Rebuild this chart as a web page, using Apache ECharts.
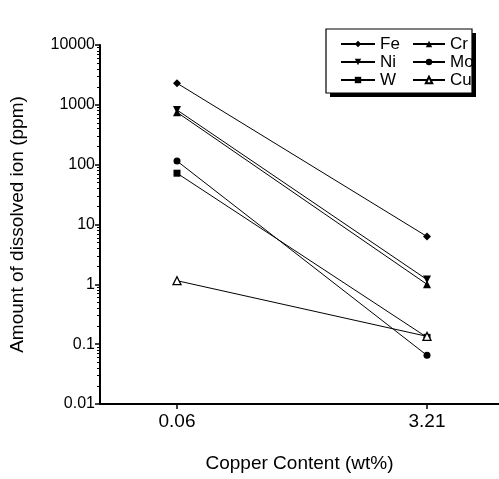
<!DOCTYPE html>
<html>
<head>
<meta charset="utf-8">
<script src="https://cdn.jsdelivr.net/npm/echarts@6/dist/echarts.min.js"></script>
<style>
  html, body { margin: 0; padding: 0; background: #fff; }
  #chart { width: 499px; height: 479px; }
</style>
</head>
<body>
<div id="chart"></div>
<script>
// Copper content categories (wt%)
const copperContent = ['0.06', '3.21'];

// Dissolved ion amount (ppm) for each element
const fe = [2300, 6.3];
const cr = [750, 1.0];
const ni = [820, 1.2];
const mo = [115, 0.065];
const w  = [72, 0.13];
const cu = [1.15, 0.135];

const yTicks = [0.01, 0.1, 1, 10, 100, 1000, 10000];

const FONT = 'Liberation Sans, Arial, sans-serif';

function pts(vals) {
  return vals.map((v, i) => [i, v]);
}

function mkSeries(name, vals, symbol, opts) {
  return Object.assign({
    name: name,
    type: 'line',
    data: pts(vals),
    symbol: symbol,
    symbolSize: 7,
    showSymbol: true,
    lineStyle: { color: '#000', width: 1 },
    itemStyle: { color: '#000', borderColor: '#000', borderWidth: 0 },
    emphasis: { disabled: true },
    animation: false,
    z: 3
  }, opts || {});
}

const chart = echarts.init(document.getElementById('chart'), null, { renderer: 'canvas' });

const legendCommon = {
  orient: 'vertical',
  itemWidth: 34,
  itemHeight: 8,
  itemGap: 0,
  textStyle: { fontFamily: FONT, fontSize: 17, lineHeight: 18, color: '#000', padding: [0, 0, 0, 0] },
  selectedMode: false,
  padding: 0
};

chart.setOption({
  backgroundColor: '#fff',
  animation: false,
  grid: { left: 100, right: 0, top: 45, bottom: 75, containLabel: false },
  xAxis: {
    type: 'value',
    min: -0.308,
    max: 1.288,
    name: 'Copper Content (wt%)',
    nameLocation: 'middle',
    nameGap: 50,
    nameTextStyle: { fontFamily: FONT, fontSize: 19, color: '#000' },
    axisLine: { show: true, onZero: false, lineStyle: { color: '#000', width: 2 } },
    axisTick: { show: true, customValues: [0, 1], length: 5, lineStyle: { color: '#000', width: 1.5 } },
    axisLabel: {
      customValues: [0, 1],
      formatter: v => copperContent[Math.round(v)] || '',
      fontFamily: FONT, fontSize: 19, color: '#000', margin: 8
    },
    splitLine: { show: false }
  },
  yAxis: {
    type: 'log',
    logBase: 10,
    min: 0.01,
    max: 10000,
    splitNumber: 6,
    name: 'Amount of dissolved ion (ppm)',
    nameLocation: 'middle',
    nameGap: 73,
    nameTextStyle: { fontFamily: FONT, fontSize: 19, color: '#000' },
    axisLine: { show: true, onZero: false, lineStyle: { color: '#000', width: 2 } },
    axisTick: { show: true, length: 5, lineStyle: { color: '#000', width: 1.5 } },
    minorTick: { show: true, splitNumber: 9, length: 3, lineStyle: { color: '#000', width: 1 } },
    axisLabel: {
      fontFamily: FONT, fontSize: 16, color: '#000', margin: 5,
      formatter: v => {
        const hit = yTicks.find(t => Math.abs(Math.log10(t) - Math.log10(v)) < 1e-6);
        return hit !== undefined ? String(hit) : '';
      }
    },
    splitLine: { show: false },
    minorSplitLine: { show: false }
  },
  graphic: [
    // legend frame with offset shadow
    { type: 'rect', shape: { x: 330, y: 33, width: 146, height: 64 }, style: { fill: '#000' }, z: 5, silent: true },
    { type: 'rect', shape: { x: 326, y: 29, width: 146, height: 64 }, style: { fill: '#fff', stroke: '#000', lineWidth: 1.2 }, z: 6, silent: true }
  ],
  legend: [
    Object.assign({}, legendCommon, { left: 340, top: 35, data: ['Fe', 'Ni', 'W'], z: 10 }),
    Object.assign({}, legendCommon, { left: 412, top: 35, itemWidth: 32, data: ['Cr', 'Mo', 'Cu'], z: 10 })
  ],
  series: [
    mkSeries('Fe', fe, 'diamond', { symbolSize: 8 }),
    mkSeries('Cr', cr, 'triangle', { symbolSize: 8 }),
    mkSeries('Ni', ni, 'triangle', { symbolSize: 8, symbolRotate: 180 }),
    mkSeries('Mo', mo, 'circle', { symbolSize: 7 }),
    mkSeries('W', w, 'rect', { symbolSize: 7 }),
    mkSeries('Cu', cu, 'triangle', {
      symbolSize: 8,
      itemStyle: { color: '#fff', borderColor: '#000', borderWidth: 1.3 },
      z: 4
    })
  ]
});
</script>
</body>
</html>
